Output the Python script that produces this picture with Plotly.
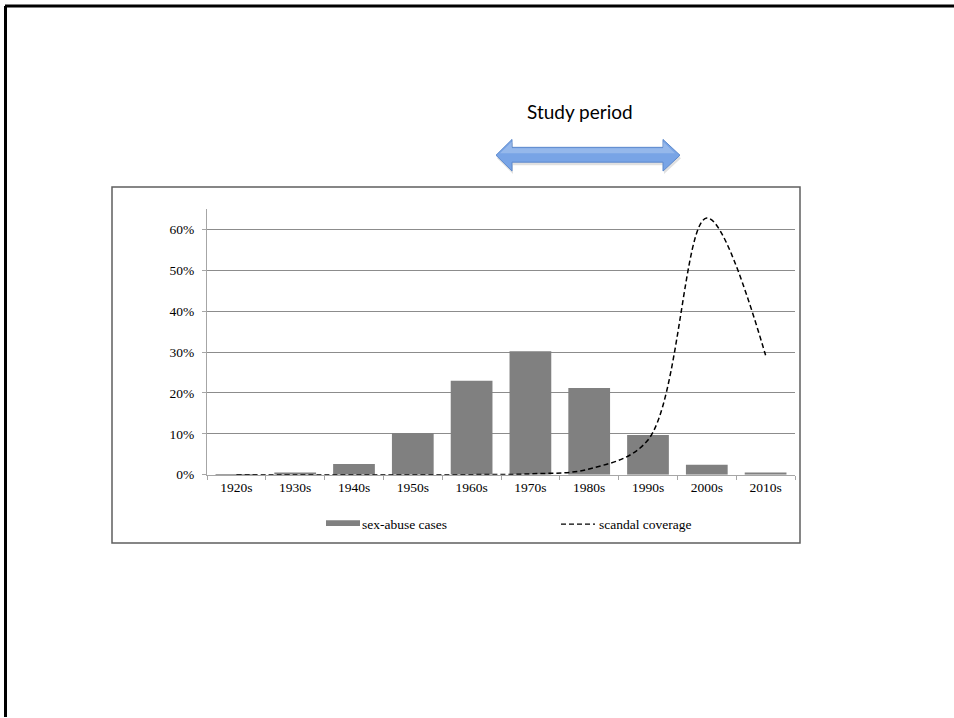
import plotly.graph_objects as go

# Decades on the category axis
decades = ["1920s", "1930s", "1940s", "1950s", "1960s",
           "1970s", "1980s", "1990s", "2000s", "2010s"]

# Share of sex-abuse cases by decade of the abuse
abuse_cases = [0.001, 0.005, 0.026, 0.102, 0.230,
               0.302, 0.212, 0.097, 0.024, 0.005]

# Share of scandal media coverage by decade
scandal_coverage = [0.0, 0.0, 0.0, 0.0, 0.0,
                    0.002, 0.014, 0.085, 0.628, 0.292]

y_ticks = [0, 0.1, 0.2, 0.3, 0.4, 0.5, 0.6]
y_tick_labels = ["0%", "10%", "20%", "30%", "40%", "50%", "60%"]

W, H = 954, 718


def px(x, y):
    """Pixel position -> paper coordinates."""
    return x / W, 1 - y / H


def path_from(points):
    parts = []
    for i, (x, y) in enumerate(points):
        fx, fy = px(x, y)
        parts.append(("M" if i == 0 else "L") + f"{fx:.5f},{fy:.5f}")
    return " ".join(parts) + " Z"


SERIF = "Liberation Serif, Times New Roman, serif"

fig = go.Figure()

fig.add_trace(go.Bar(
    x=decades, y=abuse_cases, name="sex-abuse cases",
    marker=dict(color="#808080", line=dict(width=0)),
    showlegend=False,
))

fig.add_trace(go.Scatter(
    x=decades, y=scandal_coverage, name="scandal coverage",
    mode="lines",
    line=dict(color="black", width=1.5, dash="5px,3px",
              shape="spline", smoothing=1.0),
    showlegend=False,
))

# Plot area in pixels
left, right, bottom, top = 207, 795, 480, 480 - 0.65 * 413.3
dom_x = [left / W, right / W]
dom_y = [1 - bottom / H, 1 - top / H]

shapes = []
# slide frame (top and left edges)
shapes.append(dict(type="line", xref="paper", yref="paper",
                   x0=px(5, 6)[0], y0=px(5, 6)[1], x1=1.01, y1=px(5, 6)[1],
                   line=dict(color="black", width=3)))
shapes.append(dict(type="line", xref="paper", yref="paper",
                   x0=px(5.5, 6)[0], y0=px(5, 6)[1], x1=px(5.5, 6)[0], y1=-0.01,
                   line=dict(color="black", width=3)))
# chart frame
x0, y0 = px(112, 189)
x1, y1 = px(800, 549)
shapes.append(dict(type="rect", xref="paper", yref="paper",
                   x0=x0, y0=y1, x1=x1, y1=y0,
                   line=dict(color="#5f5f5f", width=1.5)))

# double arrow marking the study period
arrow = [(496, 157), (512, 141), (512, 149), (663, 149), (663, 141),
         (680, 157), (663, 173), (663, 164), (512, 164), (512, 173)]
shadow = [(x + 1, y + 3) for x, y in arrow]
shapes.append(dict(type="path", xref="paper", yref="paper",
                   path=path_from(shadow),
                   fillcolor="rgba(0,0,0,0.12)", line=dict(width=0)))
shapes.append(dict(type="path", xref="paper", yref="paper",
                   path=path_from(arrow),
                   fillcolor="#78A4E6", line=dict(color="#5B88CC", width=1)))
highlight = [(500, 155), (512, 143), (512, 150), (663, 150), (663, 143),
             (675, 155)]
shapes.append(dict(type="path", xref="paper", yref="paper",
                   path=path_from(highlight),
                   fillcolor="rgba(255,255,255,0.22)", line=dict(width=0)))

# legend swatches
lx0, ly0 = px(326, 526)
lx1, ly1 = px(360, 532)
shapes.append(dict(type="rect", xref="paper", yref="paper",
                   x0=lx0, y0=ly1, x1=lx1, y1=ly0,
                   fillcolor="#808080", line=dict(width=0)))
dx0, dy = px(561, 530)
dx1, _ = px(595, 530)
shapes.append(dict(type="line", xref="paper", yref="paper",
                   x0=dx0, y0=dy, x1=dx1, y1=dy,
                   line=dict(color="black", width=1.3, dash="5px,3px")))

annotations = [
    dict(text="Study period", xref="paper", yref="paper",
         x=px(580, 113)[0], y=px(580, 113)[1], showarrow=False,
         xanchor="center", yanchor="middle",
         font=dict(family="Lato, Open Sans, sans-serif", size=19, color="black")),
    dict(text="sex-abuse cases", xref="paper", yref="paper",
         x=px(360, 530)[0], y=px(360, 530)[1], showarrow=False,
         xanchor="left", yanchor="middle",
         font=dict(family=SERIF, size=13.5, color="black")),
    dict(text="scandal coverage", xref="paper", yref="paper",
         x=px(597, 530)[0], y=px(597, 530)[1], showarrow=False,
         xanchor="left", yanchor="middle",
         font=dict(family=SERIF, size=13.5, color="black")),
]

fig.update_layout(
    width=W, height=H,
    margin=dict(l=0, r=0, t=0, b=0),
    paper_bgcolor="white", plot_bgcolor="white",
    bargap=0.29,
    shapes=shapes,
    annotations=annotations,
    xaxis=dict(
        domain=dom_x, type="category", range=[-0.5, 9.5],
        showgrid=False, showline=True, linecolor="#a6a6a6", linewidth=1,
        ticks="outside", tickson="boundaries", ticklen=4,
        tickcolor="#a6a6a6", tickfont=dict(family=SERIF, size=13.5, color="black"),
        fixedrange=True,
    ),
    yaxis=dict(
        domain=dom_y, range=[0, 0.65],
        tickvals=y_ticks, ticktext=y_tick_labels,
        showgrid=True, gridcolor="#8c8c8c", gridwidth=1,
        zeroline=False,
        showline=True, linecolor="#a6a6a6", linewidth=1,
        ticks="outside", ticklen=4, tickcolor="#a6a6a6",
        ticklabelstandoff=5,
        tickfont=dict(family=SERIF, size=13.5, color="black"),
        fixedrange=True,
    ),
)

fig.write_html("out.html")
